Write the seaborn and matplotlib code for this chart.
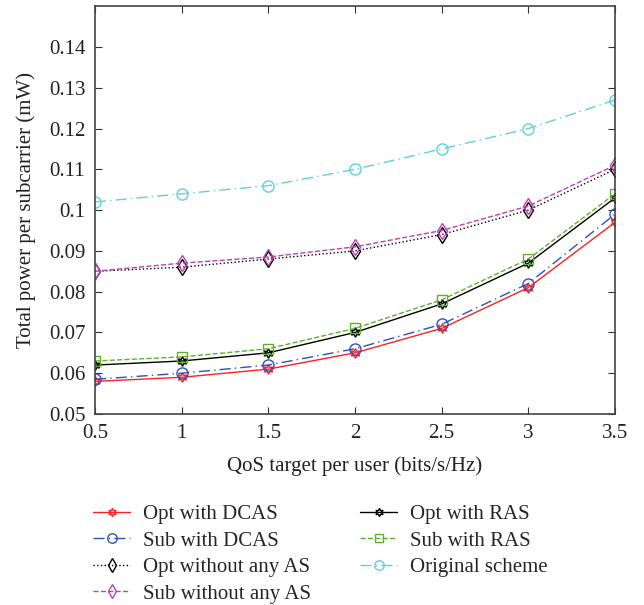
import numpy as np
import pandas as pd
import seaborn as sns
import matplotlib.pyplot as plt

qos = [0.5, 1, 1.5, 2, 2.5, 3, 3.5]

opt_dcas = [0.058, 0.059, 0.061, 0.065, 0.071, 0.081, 0.097]
sub_dcas = [0.0585, 0.060, 0.062, 0.066, 0.072, 0.082, 0.099]
opt_noas = [0.085, 0.086, 0.088, 0.090, 0.094, 0.100, 0.110]
sub_noas = [0.085, 0.087, 0.0885, 0.091, 0.095, 0.101, 0.111]
opt_ras = [0.062, 0.063, 0.065, 0.070, 0.077, 0.087, 0.103]
sub_ras = [0.063, 0.064, 0.066, 0.071, 0.078, 0.088, 0.104]
original = [0.102, 0.104, 0.106, 0.110, 0.115, 0.120, 0.127]

labels = ['Opt with DCAS', 'Sub with DCAS', 'Opt without any AS', 'Sub without any AS',
          'Opt with RAS', 'Sub with RAS', 'Original scheme']
series = [opt_dcas, sub_dcas, opt_noas, sub_noas, opt_ras, sub_ras, original]

sns.set_style('ticks')
plt.rcParams['font.family'] = ['Liberation Serif', 'DejaVu Serif']

hexagram = (6, 1, 0)
# colour, linestyle, marker, marker size
styles = [
    ('#ff2020', '-', hexagram, 7),
    ('#3050c0', (0, (8, 3, 1, 3)), 'o', 8),
    ('#000000', ':', 'd', 8.5),
    ('#c040b0', '--', 'd', 8.5),
    ('#000000', '-', hexagram, 7),
    ('#60b030', '--', 's', 7),
    ('#60d0e0', (0, (8, 3, 1, 3)), 'o', 8),
]

fig = plt.figure(figsize=(6.44, 6.05), dpi=100)
ax = fig.add_axes([0.1475, 0.3157, 0.8075, 0.674])

for vals, lab, (col, ls, mk, ms) in zip(series, labels, styles):
    sns.lineplot(x=qos, y=vals, ax=ax, color=col, linestyle=ls, linewidth=1,
                 marker=mk, markersize=ms, markerfacecolor='none',
                 markeredgecolor=col, markeredgewidth=1, label=lab)

ax.set_xlim(0.5, 3.5)
ax.set_ylim(0.05, 0.15)
ax.set_xticks(qos)
ax.set_xticklabels(['0.5', '1', '1.5', '2', '2.5', '3', '3.5'])
ax.set_yticks([0.05, 0.06, 0.07, 0.08, 0.09, 0.1, 0.11, 0.12, 0.13, 0.14])
ax.set_yticklabels(['0.05', '0.06', '0.07', '0.08', '0.09', '0.1', '0.11', '0.12', '0.13', '0.14'])
ax.tick_params(direction='in', top=True, right=True, labelsize=15, length=5, pad=7,
               colors='#333333', labelcolor='#222222')
for sp in ax.spines.values():
    sp.set_visible(True)
    sp.set_color('#444444')
    sp.set_linewidth(1.2)

ax.set_xlabel('QoS target per user (bits/s/Hz)', fontsize=15, color='#222222', labelpad=10)
ax.set_ylabel('Total power per subcarrier (mW)', fontsize=15, color='#222222', labelpad=9)

ax.legend(loc='upper left', bbox_to_anchor=(0.128, 0.183), bbox_transform=fig.transFigure,
          ncol=2, frameon=False, borderpad=0, fontsize=15, handlelength=1.8,
          handletextpad=0.6, columnspacing=2.35, labelspacing=0.33, markerscale=0.85)

plt.savefig('out.png', dpi=100)
